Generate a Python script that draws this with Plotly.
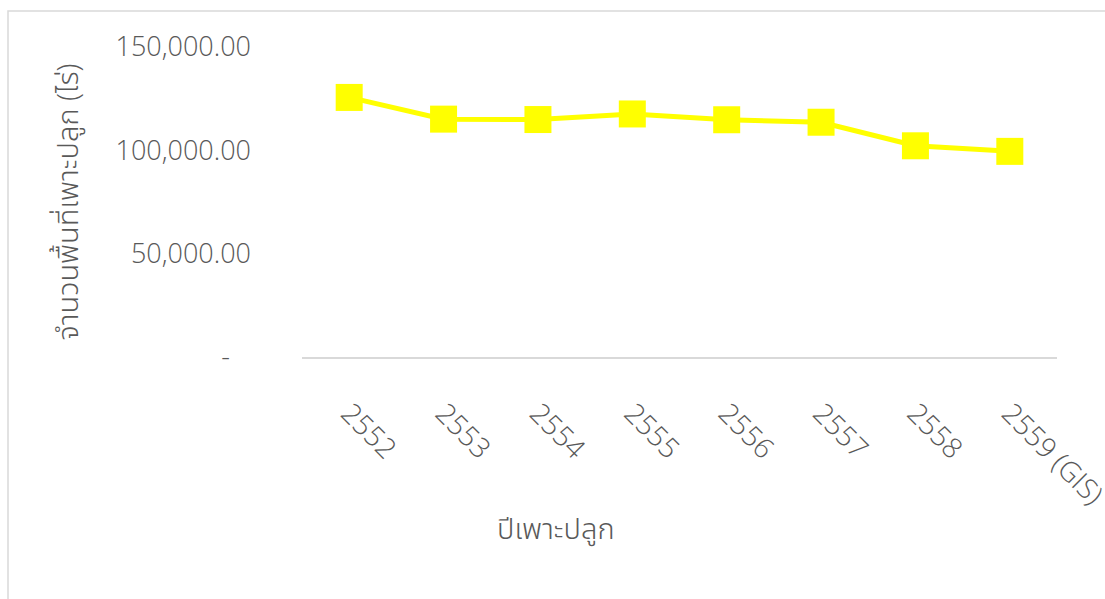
import plotly.graph_objects as go

years = ["2552", "2553", "2554", "2555", "2556", "2557", "2558", "2559 (GIS)"]
area_rai = [125600, 115100, 114900, 117600, 114800, 113600, 102200, 99500]

y_tick_vals = [0, 50000, 100000, 150000]
y_tick_text = ["-\u00a0\u00a0\u00a0", "50,000.00", "100,000.00", "150,000.00"]

W, H = 1105, 599
L, R, T, B = 302, 48, 47, 242
FONT = "Open Sans, Noto Sans, Noto Sans Thai, sans-serif"
GRAY = "#595959"

fig = go.Figure()
fig.add_trace(go.Scatter(
    x=years, y=area_rai, mode="lines+markers",
    line=dict(color="#FFFF00", width=5),
    marker=dict(symbol="square", size=27, color="#FFFF00"),
    showlegend=False, cliponaxis=False,
))

pw = W - L - R
ph = H - T - B

fig.update_layout(
    width=W, height=H,
    margin=dict(l=L, r=R, t=T, b=B, pad=0, autoexpand=False),
    paper_bgcolor="white", plot_bgcolor="white",
    font=dict(family=FONT, color=GRAY, size=27, weight=300),
    xaxis=dict(
        type="category", range=[-0.5, 7.5], automargin=False,
        showgrid=False, zeroline=False,
        showline=True, linecolor="#D9D9D9", linewidth=1.5,
        ticks="", tickangle=45, ticklabelstandoff=27,
        tickfont=dict(size=28, color=GRAY, weight=300),
    ),
    yaxis=dict(
        range=[0, 150000], showgrid=False, zeroline=False, showline=False,
        automargin=False,
        tickvals=y_tick_vals, ticktext=y_tick_text, ticks="",
        ticklabelstandoff=50,
        tickfont=dict(size=27, color=GRAY, weight=300),
        title=dict(text="จำนวนพื้นที่เพาะปลูก (ไร่)", standoff=28,
                   font=dict(size=29, color=GRAY, weight=300)),
    ),
    annotations=[dict(
        text="ปีเพาะปลูก", xref="paper", yref="paper",
        x=(556 - L) / pw, y=(H - B - 527) / ph,
        xanchor="center", yanchor="middle", showarrow=False,
        font=dict(size=29, color=GRAY, weight=300),
    )],
    shapes=[dict(
        type="rect", xref="paper", yref="paper",
        x0=(8 - L) / pw, x1=3, y0=-3, y1=(H - B - 11) / ph,
        line=dict(color="#D9D9D9", width=1.5), fillcolor="rgba(0,0,0,0)",
        layer="below",
    )],
)

fig.write_html("out.html")
